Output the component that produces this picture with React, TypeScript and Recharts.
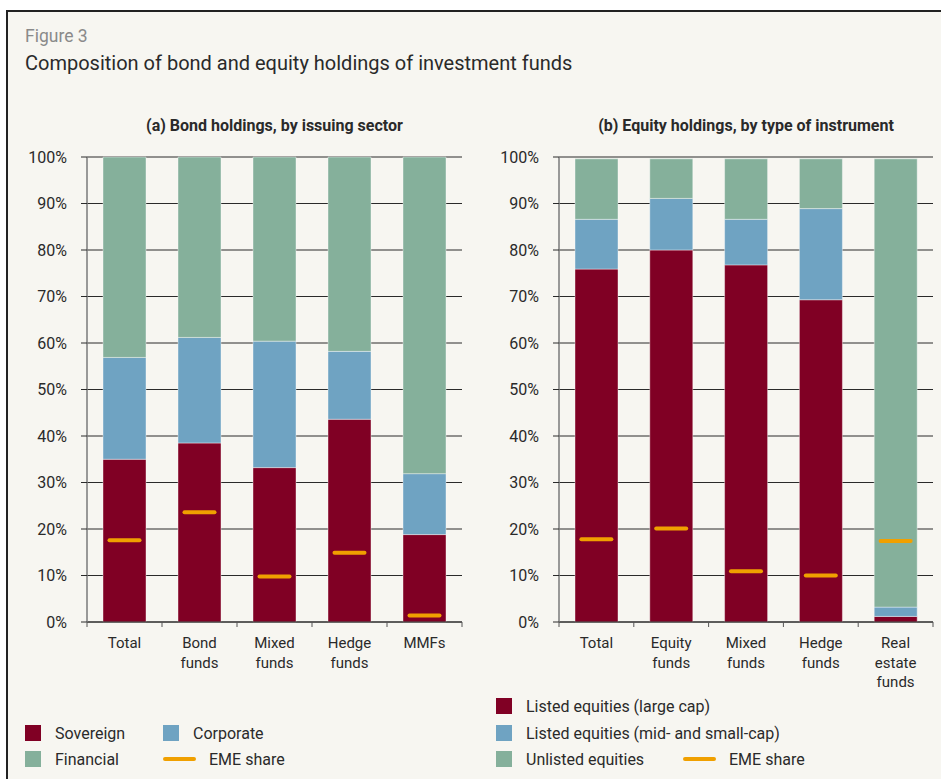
import React from 'react';
import { ComposedChart, Bar, Line, XAxis, YAxis, CartesianGrid } from 'recharts';

// ---------- data ----------
const bondCategories = ['Total', 'Bond funds', 'Mixed funds', 'Hedge funds', 'MMFs'];
const bondLabels = [['Total'], ['Bond', 'funds'], ['Mixed', 'funds'], ['Hedge', 'funds'], ['MMFs']];
const sovereign = [35.0, 38.5, 33.2, 43.6, 18.8];
const corporate = [21.9, 22.7, 27.2, 14.6, 13.1];
const financial = [43.1, 38.8, 39.6, 41.8, 68.1];
const emeBond = [17.6, 23.6, 9.8, 14.9, 1.4];

const equityCategories = ['Total', 'Equity funds', 'Mixed funds', 'Hedge funds', 'Real estate funds'];
const equityLabels = [['Total'], ['Equity', 'funds'], ['Mixed', 'funds'], ['Hedge', 'funds'], ['Real', 'estate', 'funds']];
const largeCap = [75.9, 80.0, 76.8, 69.3, 1.2];
const midSmallCap = [10.7, 11.1, 9.8, 19.6, 2.0];
const unlisted = [13.0, 8.5, 13.0, 10.7, 96.4];
const emeEquity = [17.8, 20.1, 10.9, 10.0, 17.4];

const yTicks = [0, 10, 20, 30, 40, 50, 60, 70, 80, 90, 100];

const bondData = bondCategories.map((c, i) => ({
  cat: c, lines: bondLabels[i], s1: sovereign[i], s2: corporate[i], s3: financial[i], eme: emeBond[i],
}));
const equityData = equityCategories.map((c, i) => ({
  cat: c, lines: equityLabels[i], s1: largeCap[i], s2: midSmallCap[i], s3: unlisted[i], eme: emeEquity[i],
}));

// ---------- style ----------
const FONT = 'Roboto, "DejaVu Sans", sans-serif';
const RED = '#800024';
const BLUE = '#6fa3c2';
const GREEN = '#85b09b';
const ORANGE = '#f0a000';
const BG = '#f7f6f1';
const TEXT = '#2a2a2a';
const GRID = '#2a2a2a';

const PLOT_W_LEFT = 375;
const PLOT_W_RIGHT = 374;
const CHART_H = 560;
const PLOT_TOP = 17;
const XAXIS_H = CHART_H - PLOT_TOP - 465;

const EmeDash = (props: any) => {
  const { cx, cy } = props;
  if (cx == null || cy == null) return null;
  return (
    <line x1={cx - 15} x2={cx + 15} y1={cy} y2={cy} stroke={ORANGE} strokeWidth={4} strokeLinecap="round" />
  );
};

const makeTick = (data: any[], band: number) => (props: any) => {
  const { x, y, index } = props;
  const lines: string[] = data[index]?.lines || [];
  return (
    <g>
      <line x1={x - band / 2} x2={x - band / 2} y1={y} y2={y + 5} stroke="#555" strokeWidth={1} />
      {index === data.length - 1 && (
        <line x1={x + band / 2} x2={x + band / 2} y1={y} y2={y + 5} stroke="#555" strokeWidth={1} />
      )}
      <text textAnchor="middle" fontFamily={FONT} fontSize={15} fill={TEXT}>
        {lines.map((l, i) => (
          <tspan key={i} x={x} y={y + 26 + i * 19.5}>{l}</tspan>
        ))}
      </text>
    </g>
  );
};

const Panel = ({ data, yAxisWidth, plotW, rightMargin }: any) => {
  const width = yAxisWidth + plotW + rightMargin;
  return (
    <ComposedChart
      width={width}
      height={CHART_H}
      data={data}
      margin={{ top: PLOT_TOP, right: rightMargin, left: 0, bottom: 0 }}
      barSize={43}
    >
      <CartesianGrid horizontal vertical={false} stroke={GRID} strokeWidth={1} />
      <XAxis
        dataKey="cat"
        height={XAXIS_H}
        axisLine={{ stroke: GRID, strokeWidth: 1 }}
        tickLine={false}
        tickSize={0}
        tickMargin={0}
        interval={0}
        tick={makeTick(data, plotW / data.length)}
      />
      <YAxis
        width={yAxisWidth}
        domain={[0, 100]}
        ticks={yTicks}
        interval={0}
        tickFormatter={(v: number) => `${v}%`}
        axisLine={{ stroke: '#7a7a7a', strokeWidth: 1.5 }}
        tickLine={{ stroke: GRID, strokeWidth: 1 }}
        tickSize={6}
        tickMargin={14}
        tick={{ fontFamily: FONT, fontSize: 16, fill: TEXT }}
      />
      <Bar dataKey="s1" stackId="a" fill={RED} stroke="rgba(255,255,255,0.4)" strokeWidth={1} isAnimationActive={false} />
      <Bar dataKey="s2" stackId="a" fill={BLUE} stroke="rgba(255,255,255,0.4)" strokeWidth={1} isAnimationActive={false} />
      <Bar dataKey="s3" stackId="a" fill={GREEN} stroke="rgba(255,255,255,0.4)" strokeWidth={1} isAnimationActive={false} />
      <Line dataKey="eme" stroke="none" dot={<EmeDash />} activeDot={false} isAnimationActive={false} />
    </ComposedChart>
  );
};

const Swatch = ({ x, y, color, label }: any) => (
  <div style={{ position: 'absolute', left: x, top: y, display: 'flex', alignItems: 'center', height: 16 }}>
    <div style={{ width: 16, height: 16, background: color }} />
    <span style={{ marginLeft: 14, fontSize: 16, color: TEXT, fontFamily: FONT, whiteSpace: 'nowrap' }}>{label}</span>
  </div>
);

const DashKey = ({ x, y, label }: any) => (
  <div style={{ position: 'absolute', left: x, top: y, display: 'flex', alignItems: 'center', height: 16 }}>
    <div style={{ width: 33, height: 4, background: ORANGE, borderRadius: 2 }} />
    <span style={{ marginLeft: 13, fontSize: 16, color: TEXT, fontFamily: FONT, whiteSpace: 'nowrap' }}>{label}</span>
  </div>
);

export default function App() {
  return (
    <div style={{ position: 'absolute', left: 0, top: 0, width: 941, height: 779, background: '#ffffff', overflow: 'hidden', fontFamily: FONT }}>
      <div style={{ position: 'absolute', left: 6, top: 10, width: 960, height: 800, background: BG, borderLeft: '2px solid #222', borderTop: '2px solid #222' }} />
      <div style={{ position: 'absolute', left: 25, top: 26, fontSize: 17.5, color: '#8a8a8a' }}>Figure 3</div>
      <div style={{ position: 'absolute', left: 25, top: 51, fontSize: 20, color: TEXT }}>Composition of bond and equity holdings of investment funds</div>

      <div style={{ position: 'absolute', left: 87, width: PLOT_W_LEFT, top: 116, textAlign: 'center', fontSize: 16, fontWeight: 700, color: TEXT }}>
        (a) Bond holdings, by issuing sector
      </div>
      <div style={{ position: 'absolute', left: 559, width: PLOT_W_RIGHT, top: 116, textAlign: 'center', fontSize: 16, fontWeight: 700, color: TEXT }}>
        (b) Equity holdings, by type of instrument
      </div>

      <div style={{ position: 'absolute', left: 0, top: 140 }}>
        <Panel data={bondData} yAxisWidth={87} plotW={PLOT_W_LEFT} rightMargin={18} />
      </div>
      <div style={{ position: 'absolute', left: 480, top: 140 }}>
        <Panel data={equityData} yAxisWidth={79} plotW={PLOT_W_RIGHT} rightMargin={8} />
      </div>

      <Swatch x={25} y={725} color={RED} label="Sovereign" />
      <Swatch x={163} y={725} color={BLUE} label="Corporate" />
      <Swatch x={25} y={751} color={GREEN} label="Financial" />
      <DashKey x={163} y={751} label="EME share" />

      <Swatch x={496} y={698} color={RED} label="Listed equities (large cap)" />
      <Swatch x={496} y={725} color={BLUE} label="Listed equities (mid- and small-cap)" />
      <Swatch x={496} y={751} color={GREEN} label="Unlisted equities" />
      <DashKey x={683} y={751} label="EME share" />
    </div>
  );
}
